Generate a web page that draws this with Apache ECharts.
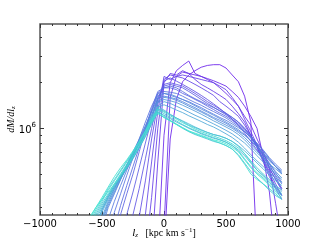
<!DOCTYPE html>
<html><head><meta charset="utf-8">
<script src="https://cdn.jsdelivr.net/npm/echarts@6/dist/echarts.min.js"></script>
<style>html,body{margin:0;padding:0;background:#fff}#c{width:320px;height:240px}</style>
</head><body><div id="c"></div>
<script>
// x grid of angular momentum l_z (kpc km/s)
const lz = [-600,-550,-500,-450,-400,-350,-300,-250,-200,-150,-100,-50,0,50,100,150,200,250,300,350,400,450,500,550,600,650,700,750,800,850,900,950];
// dM/dl_z values in units of 1e5 (values below the axis minimum run off the bottom)
const line01 = [1,1,1,1,1,1,1,1,1,1,1,1,1.5,8.5,15.5,20.3,22.5,24,25.3,26,26.3,26.3,25,22.5,20.3,16.3,11,1.5,1,1,1,1];
const line02 = [1,1,1,1,1,1,1,1,1,1,1,1.5,9,20,24,26,27.8,23,22,21.3,20.6,19.8,19,17.5,16,14,12,10,6.5,3.8,1.5,1];
const line03 = [1,1,1,1,1,1,1,1,1,1,1,1,2.2,16,22,23.5,23,22.5,22,21,20,18.5,17,15.5,14,12,10.5,8.5,7,5.5,3.2,1.8];
const line04 = [1,1,1,1,1,1,1,1,1,1,1.5,6,20,23,22.5,24,23,21,19.5,18.5,17.5,16.5,15.5,14,12.5,11,9,7.5,6,4.8,4,3.4];
const line05 = [1,1,1,1,1,1,1,1,1,1.5,3.5,10,21,22.5,22,22.5,22,21.5,21,20.5,20,19,18,16,14,11.5,9.5,7.8,6.2,5,4.1,3.6];
const line06 = [1,1,1,1,1,1,1,1,1.5,2.7,6,13,22,21,22,21.5,20.5,19.5,18.5,17.5,16.5,15,14,13,12,10.5,9,7.5,6.2,5.2,4.3,3.6];
const line07 = [1,1,1,1,1,1,1,1.5,2.6,4.5,8.5,14.5,20.5,21.5,20.5,19.5,18.5,17.5,16.5,15.5,14.5,13.5,12.5,11.5,10.5,9.3,8.2,7.2,6.3,5.4,4.6,4];
const line08 = [1,1,1,1,1,1,1.6,2.7,4,6.3,10,15.5,19.5,20,19.5,19,18,17,16,15,14.2,13.4,12.6,11.8,11,10,9,7.8,6.6,5.5,4.6,3.9];
const line09 = [1,1,1,1,1,1.6,2.7,3.8,5.5,8,11.5,16,19,19.5,19,18.5,17.5,16.5,15.5,14.6,13.8,13,12.3,11.5,10.7,9.8,8.8,7.8,6.8,5.8,4.8,4];
const line10 = [1,1,1,1,1.7,2.7,3.7,5,7,9.8,13,17,18.5,18.5,18,17,16.3,15.5,14.8,14,13.3,12.6,12,11.3,10.5,9.6,8.6,7.6,6.7,5.9,5.1,4.4];
const line11 = [1,1,1,1,2.2,3.1,4.2,5.6,7.5,10,13.5,17.5,18.5,19,18.5,17.5,16.5,15.7,15,14.3,13.7,13.1,12.5,11.8,11,10,8.8,7.6,6.5,5.6,4.9,4.3];
const line12 = [1,1,1,1.8,2.8,3.7,4.9,6.4,8.5,11,14,17,17.5,17.3,17,16.3,15.5,14.8,14.2,13.5,12.9,12.3,11.7,11,10.3,9.5,8.7,7.9,7.1,6.3,5.6,5];
const line13 = [1,1,1.9,2.5,3.3,4.2,5.3,6.6,8.2,10.3,13,16.5,17,16.5,16,15.5,15,14.3,13.7,13,12.4,11.8,11.3,10.7,10.1,9.5,8.8,8,7.2,6.4,5.8,5.3];
const line14 = [1,1.6,2.2,3.0,3.7,4.6,5.7,7.0,8.5,10.4,12.8,15.8,16.3,16,15.6,15,14.3,13.7,13,12.4,11.8,11.3,10.8,10.2,9.6,9,8.3,7.6,6.9,6.2,5.6,5.1];
const line15 = [1,1.7,2.4,3.1,3.8,4.6,5.5,6.6,8.0,9.8,12.3,15.5,17,16.8,16.2,15.5,14.8,14.1,13.4,12.8,12.2,11.6,11.0,10.4,9.8,9.1,8.3,7.5,6.8,6.1,5.6,5.2];
const line16 = [1.3,1.8,2.5,3.2,3.9,4.7,5.7,6.9,8.3,10,12.2,15,16,15.8,15.3,14.7,14,13.4,12.8,12.2,11.6,11,10.5,10,9.4,8.7,7.9,7.1,6.4,5.8,5.2,4.7];
const line17 = [1.5,2.0,2.6,3.3,4.0,4.8,5.7,6.8,8.1,9.7,11.8,14.8,15.5,15.2,14.8,14.2,13.6,13,12.4,11.8,11.2,10.7,10.2,9.7,9.1,8.4,7.6,6.9,6.3,5.8,5.4,5.0];
const line18 = [1.7,2.2,2.9,3.5,4.1,4.8,5.6,6.6,7.8,9.3,11.2,14,15,14.6,14,13.4,12.8,12.2,11.7,11.2,10.7,10.2,9.7,9.2,8.6,8,7.3,6.6,6.0,5.5,5.0,4.6];
const line19 = [1.6,2.2,2.8,3.4,4.0,4.7,5.5,6.4,7.6,9.1,11.0,13.8,14.3,13.8,13.2,12.7,12.1,11.6,11.1,10.6,10.2,9.7,9.2,8.7,8.1,7.4,6.7,6.1,5.6,5.1,4.7,4.4];
const line20 = [1.6,2.3,2.9,3.5,4.1,4.7,5.4,6.3,7.4,8.8,10.6,12.8,12.2,11.6,11.0,10.5,10.0,9.6,9.2,8.9,8.6,8.4,8.1,7.7,7.2,6.6,5.9,5.3,4.9,4.5,4.1,3.8];
const line21 = [1.8,2.5,3.0,3.6,4.2,4.8,5.5,6.4,7.5,8.9,10.8,13.4,13.0,12.3,11.7,11.2,10.7,10.2,9.8,9.4,9.1,8.9,8.6,8.2,7.7,7.1,6.5,5.9,5.4,4.9,4.5,4.2];
const line22 = [1.9,2.6,3.1,3.6,4.2,4.9,5.7,6.7,7.9,9.5,12.2,12.5,11.8,11.2,10.6,10.0,9.5,9.1,8.8,8.5,8.2,8.0,7.7,7.3,6.7,5.9,5.2,4.7,4.3,3.9,3.6,3.4];
const line23 = [2.1,2.7,3.2,3.7,4.3,5.0,5.8,6.8,8.0,9.5,11.5,13.8,13.2,12.4,11.7,11.1,10.5,10.1,9.7,9.4,9.1,8.9,8.6,8.2,7.6,6.8,6.1,5.5,5.0,4.6,4.2,3.9];
const line24 = [2.2,2.8,3.3,3.9,4.5,5.2,6.0,6.9,8.0,9.4,11.2,13.2,12.5,11.8,11.2,10.6,10.1,9.7,9.3,9.0,8.7,8.4,8.1,7.7,7.1,6.3,5.6,5.1,4.7,4.3,3.9,3.6];
const line25 = [2.4,2.9,3.4,4.0,4.6,5.3,6.1,7.0,8.1,9.6,11.5,13.4,12.8,12.1,11.5,10.9,10.4,9.9,9.5,9.2,8.9,8.6,8.3,7.9,7.4,6.8,6.0,5.3,4.8,4.4,4.0,3.7];
const line26 = [2.5,3.0,3.5,4.1,4.8,5.5,6.2,7.1,8.2,9.6,11.4,12.9,12.0,11.3,10.7,10.1,9.6,9.2,8.9,8.6,8.3,8.0,7.7,7.3,6.6,5.8,5.0,4.6,4.3,4.0,3.7,3.4];
const line27 = [2.6,3.0,3.4,3.8,4.3,4.9,5.6,6.5,7.6,9.0,11,12.6,11.8,11.2,10.6,10.1,9.6,9.3,9.0,8.7,8.4,8.2,7.9,7.5,7.0,6.2,5.5,5.0,4.6,4.2,3.8,3.5];
const lines = [line01,line02,line03,line04,line05,line06,line07,line08,line09,line10,line11,line12,line13,line14,line15,line16,line17,line18,line19,line20,line21,line22,line23,line24,line25,line26,line27];

const xTicks = [-1000,-500,0,500,1000];
const yMajorTicks = [10];           // = 10^6
const yMinorTicks = [3,4,5,6,7,8,9,20,30,40];
const yUnit = 1e5;
const yMin = 2.68, yMax = 48.8;

const cStart = [105,30,235], cEnd = [64,230,208];
function lineColor(i, n) {
  const t = n > 1 ? i / (n - 1) : 0;
  const c = cStart.map((s, k) => Math.round(s + (cEnd[k] - s) * t));
  return 'rgba(' + c.join(',') + ',0.85)';
}

const tickLine = { color: '#333', width: 1 };
const series = lines.map((vals, i) => ({
  type: 'line',
  data: lz.map((x, j) => [x, vals[j]]),
  showSymbol: false, symbol: 'none', silent: true, clip: true,
  lineStyle: { width: 1, color: lineColor(i, lines.length) }
}));

function yAx(pos, ticks, len, extra) {
  return Object.assign({ type: 'log', logBase: 10, min: yMin, max: yMax, position: pos,
    axisLine: { show: false, onZero: false }, splitLine: { show: false }, axisLabel: { show: false },
    axisTick: { inside: true, length: len, lineStyle: tickLine, customValues: ticks } }, extra || {});
}
function xAx(pos, extra) {
  return Object.assign({ type: 'value', min: xTicks[0], max: xTicks[xTicks.length - 1], interval: xTicks[1] - xTicks[0], position: pos,
    axisLine: { show: false, onZero: false }, splitLine: { show: false }, axisLabel: { show: false },
    axisTick: { inside: true, length: 4, lineStyle: tickLine },
    minorTick: { show: true, splitNumber: 5, length: 2, lineStyle: tickLine } }, extra || {});
}

const chart = echarts.init(document.getElementById('c'), null, { renderer: 'canvas' });
chart.setOption({
  animation: false,
  backgroundColor: '#fff',
  grid: { left: 40, right: 32, top: 24, bottom: 25, show: true, borderColor: '#555', borderWidth: 1.5,
    backgroundColor: 'transparent', outerBoundsMode: 'none', containLabel: false },
  xAxis: [
    xAx('bottom', {
      axisLabel: { show: true, fontFamily: 'DejaVu Sans', fontSize: 10, color: '#000', margin: 4,
        formatter: v => String(v).replace('-', '\u2212') },
      name: '{i|l}{s|z}{n|   [kpc km s}{p|\u22121}{n|]}', nameLocation: 'middle', nameGap: 12, nameMoveOverlap: false,
      nameTextStyle: { rich: {
        i: { fontFamily: 'Liberation Serif', fontStyle: 'italic', fontSize: 11, color: '#000', lineHeight: 12, verticalAlign: 'middle' },
        s: { fontFamily: 'Liberation Serif', fontStyle: 'italic', fontSize: 7, color: '#000', verticalAlign: 'bottom', lineHeight: 8 },
        n: { fontFamily: 'Liberation Serif', fontSize: 10, color: '#000', lineHeight: 12, verticalAlign: 'middle' },
        p: { fontFamily: 'Liberation Serif', fontSize: 7, color: '#000', verticalAlign: 'top', lineHeight: 8 }
      } } }),
    xAx('top')
  ],
  yAxis: [
    yAx('left', yMajorTicks, 4, {
      axisLabel: { show: true, customValues: yMajorTicks, margin: 4,
        formatter: v => '{b|10}{s|' + Math.round(Math.log10(v * yUnit)) + '}',
        rich: {
          b: { fontFamily: 'DejaVu Sans', fontSize: 10, color: '#000', lineHeight: 14, verticalAlign: 'bottom' },
          s: { fontFamily: 'DejaVu Sans', fontSize: 7, color: '#000', lineHeight: 14, verticalAlign: 'top' }
        } },
      name: '{i|dM/dl}{s|z}', nameLocation: 'middle', nameGap: 23, nameRotate: 90, nameMoveOverlap: false,
      nameTextStyle: { rich: {
        i: { fontFamily: 'Liberation Serif', fontStyle: 'italic', fontSize: 10, color: '#000', lineHeight: 11, verticalAlign: 'middle' },
        s: { fontFamily: 'Liberation Serif', fontStyle: 'italic', fontSize: 7, color: '#000', verticalAlign: 'bottom', lineHeight: 7 }
      } } }),
    yAx('left', yMinorTicks, 2),
    yAx('right', yMajorTicks, 4),
    yAx('right', yMinorTicks, 2)
  ],
  series: series
});
</script>
</body></html>
